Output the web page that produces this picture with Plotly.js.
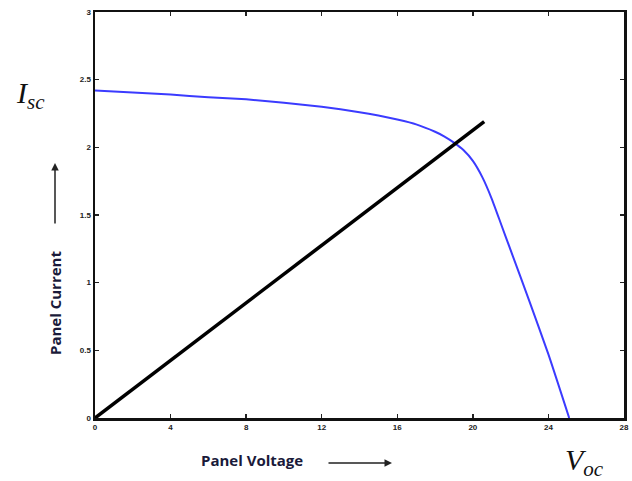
<!DOCTYPE html>
<html>
<head>
<meta charset="utf-8">
<script src="https://cdn.plot.ly/plotly-3.0.1.min.js"></script>
<style>html,body{margin:0;padding:0;background:#fff;}#chart{width:632px;height:481px;}</style>
</head>
<body>
<div id="chart"></div>
<script>
const panelVoltage = [0, 2, 4, 6, 8, 10, 12, 14, 15, 16, 17, 18, 18.5, 19, 19.5, 20, 20.5, 21, 21.5, 22, 23, 24, 25.1];
const panelCurrent = [2.42, 2.405, 2.39, 2.37, 2.355, 2.33, 2.30, 2.26, 2.235, 2.205, 2.17, 2.115, 2.08, 2.035, 1.98, 1.90, 1.78, 1.62, 1.43, 1.24, 0.86, 0.47, 0.0];
const loadVoltage = [0, 20.6];
const loadCurrent = [0, 2.19];
const xTicks = [0, 4, 8, 12, 16, 20, 24, 28];
const yTicks = [0, 0.5, 1, 1.5, 2, 2.5, 3];

const tickFont = {family: 'Liberation Sans', size: 8, color: '#222', weight: 'bold'};
const labelFont = {family: 'Open Sans', size: 15, color: '#1a1a3a', weight: 'bold'};

const traces = [
  {x: panelVoltage, y: panelCurrent, mode: 'lines', line: {color: '#3b3bff', width: 2, shape: 'spline', smoothing: 0.5}, hoverinfo: 'skip'},
  {x: loadVoltage, y: loadCurrent, mode: 'lines', line: {color: '#000', width: 3.5}, hoverinfo: 'skip'}
];

const layout = {
  width: 632, height: 481,
  margin: {l: 95, r: 8, t: 12, b: 63},
  paper_bgcolor: '#fff', plot_bgcolor: '#fff',
  showlegend: false,
  xaxis: {range: [0, 28], tickvals: xTicks, ticktext: xTicks.map(String), ticks: 'inside', ticklen: 4, tickwidth: 1.5, tickcolor: '#222',
          showline: true, linecolor: '#111', linewidth: 2.5, mirror: 'ticks', showgrid: false, zeroline: false, tickfont: tickFont, fixedrange: true},
  yaxis: {range: [0, 3], tickvals: yTicks, ticktext: yTicks.map(String), ticks: 'inside', ticklen: 4, tickwidth: 1.5, tickcolor: '#222',
          showline: true, linecolor: '#111', linewidth: 2.5, mirror: 'ticks', showgrid: false, zeroline: false, tickfont: tickFont, fixedrange: true},
  annotations: [
    {xref: 'paper', yref: 'paper', x: (252 - 95) / 529, y: (418 - 460) / 406, text: 'Panel Voltage', showarrow: false, font: labelFont, xanchor: 'center', yanchor: 'middle'},
    {xref: 'paper', yref: 'paper', x: (55 - 95) / 529, y: (418 - 303) / 406, text: 'Panel Current', showarrow: false, font: labelFont, textangle: -90, xanchor: 'center', yanchor: 'middle'},
    {xref: 'paper', yref: 'paper', x: (392 - 95) / 529, y: (418 - 463) / 406, ax: 327 - 392, ay: 0, text: '', showarrow: true, arrowhead: 2, arrowsize: 1, arrowwidth: 1.5, arrowcolor: '#222', axref: 'pixel', ayref: 'pixel'},
    {xref: 'paper', yref: 'paper', x: (55 - 95) / 529, y: (418 - 163) / 406, ax: 0, ay: 62, text: '', showarrow: true, arrowhead: 2, arrowsize: 1, arrowwidth: 1.5, arrowcolor: '#222', axref: 'pixel', ayref: 'pixel'},
    {xref: 'paper', yref: 'paper', x: (14 - 95) / 529, y: (418 - 95) / 406, text: 'I<sub>sc</sub>', showarrow: false, xanchor: 'left', yanchor: 'middle', font: {family: 'Liberation Serif', size: 30, color: '#111', style: 'italic'}},
    {xref: 'paper', yref: 'paper', x: (563 - 95) / 529, y: (418 - 462) / 406, text: 'V<sub>oc</sub>', showarrow: false, xanchor: 'left', yanchor: 'middle', font: {family: 'Liberation Serif', size: 30, color: '#111', style: 'italic'}}
  ]
};

Plotly.newPlot('chart', traces, layout, {displayModeBar: false, staticPlot: true});
</script>
</body>
</html>
